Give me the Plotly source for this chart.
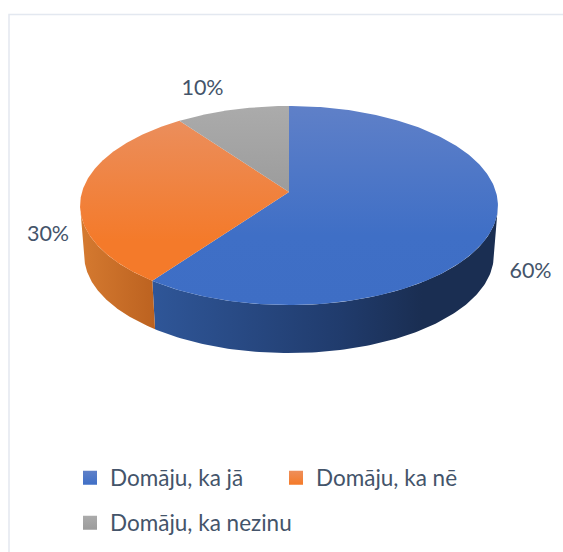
import numpy as np
import plotly.graph_objects as go

categories = ["Domāju, ka jā", "Domāju, ka nē", "Domāju, ka nezinu"]
values = [60, 30, 10]
labels = ["60%", "30%", "10%"]

# ---- styles and projection of the tilted disc, in page pixels ----
W, H = 563, 552
CX, CY = 289.0, 192.0
RX, RY, K = 207.0, 97.7, 0.1357
BASE_SCALE, BASE_Y = 0.98, 242.3
TEXT = "#44546A"
FONT = "Lato, Carlito, 'Open Sans', sans-serif"
TOP_SCALES = [
    [[0, "#5F80C8"], [0.65, "#3F6FC6"], [1, "#3E6EC5"]],
    [[0, "#EB8E5C"], [0.75, "#F47A2A"], [1, "#F47A2A"]],
    [[0, "#ABABAB"], [1, "#9C9C9C"]],
]
WALL_SCALES = [
    [[0, "#2F5698"], [0.55, "#203B6C"], [0.78, "#1A2E52"], [1, "#1A2E52"]],
    [[0, "#D57A30"], [1, "#BC6220"]],
    None,
]
SWATCH = [("#5F80C8", "#3F6FC6"), ("#EE8F5C", "#F57A28"), ("#ABABAB", "#9C9C9C")]
LABEL_POS = {0: (530.5, 272.5), 1: (48, 235.5), 2: (202.5, 89.5)}


def project(theta_deg, scale=1.0, cy=CY):
    t = np.radians(theta_deg)
    u, v = np.sin(t), -np.cos(t)
    w = 1 - K * v
    return CX + scale * RX * u / w, cy + scale * RY * v / w


edges = np.concatenate([[0], np.cumsum(values)]) / np.sum(values) * 360
# visible part of the rim, silhouette to silhouette
RIM_START, RIM_END = 98.0, 262.0

fig = go.Figure()

# side walls
for i in range(len(values)):
    a0, a1 = max(edges[i], RIM_START), min(edges[i + 1], RIM_END)
    if a1 <= a0 or WALL_SCALES[i] is None:
        continue
    th = np.linspace(a0, a1, 120)
    xt, yt = project(th)
    xb, yb = project(th[::-1], BASE_SCALE, BASE_Y)
    xs = np.concatenate([xt, xb, xt[:1]])
    ys = np.concatenate([yt, yb, yt[:1]])
    fig.add_trace(go.Scatter(
        x=xs, y=ys, mode="lines", line=dict(width=0), fill="toself",
        fillgradient=dict(type="horizontal", colorscale=WALL_SCALES[i],
                          start=float(xs.min()), stop=float(xs.max())),
        showlegend=False, hoverinfo="skip"))

# top faces
for i in range(len(values)):
    th = np.linspace(edges[i], edges[i + 1], 240)
    x, y = project(th)
    xs = np.concatenate([[CX], x, [CX]])
    ys = np.concatenate([[CY], y, [CY]])
    fig.add_trace(go.Scatter(
        x=xs, y=ys, mode="lines", line=dict(width=0), fill="toself",
        fillgradient=dict(type="vertical", colorscale=TOP_SCALES[i],
                          start=float(ys.min()), stop=float(ys.max())),
        showlegend=False, hoverinfo="skip", name=categories[i]))

# data labels
fig.add_trace(go.Scatter(
    x=[LABEL_POS[i][0] for i in range(3)],
    y=[LABEL_POS[i][1] for i in range(3)],
    mode="text", text=labels, textposition="middle center",
    textfont=dict(family=FONT, size=21.5, color=TEXT),
    showlegend=False, hoverinfo="skip"))

# legend entries
for i, name in enumerate(categories):
    fig.add_trace(go.Scatter(
        x=[None], y=[None], mode="markers", name=name,
        legend="legend" if i < 2 else "legend2",
        marker=dict(symbol="square", size=14, color=SWATCH[i][0],
                    gradient=dict(type="vertical", color=SWATCH[i][1]))))

legend_common = dict(
    orientation="h", xanchor="left", yanchor="middle",
    xref="container", yref="container",
    font=dict(family=FONT, size=22.5, color=TEXT),
    bgcolor="rgba(0,0,0,0)", entrywidthmode="pixels",
    itemsizing="trace", itemclick=False, itemdoubleclick=False)

fig.update_layout(
    width=W, height=H, margin=dict(l=0, r=0, t=0, b=0, autoexpand=False),
    paper_bgcolor="white", plot_bgcolor="white",
    xaxis=dict(range=[0, W], visible=False, fixedrange=True),
    yaxis=dict(range=[H, 0], visible=False, fixedrange=True),
    legend=dict(x=70 / W, y=1 - 478 / H, entrywidth=161, **legend_common),
    legend2=dict(x=70 / W, y=1 - 523 / H, entrywidth=210, **legend_common),
    shapes=[dict(type="rect", xref="x", yref="y", x0=9, y0=14.5, x1=W + 50, y1=H + 50,
                 line=dict(color="#E3E8F0", width=1.5), layer="below")],
    showlegend=True,
)

fig.write_html("out.html", post_script="document.body.style.margin='0';", config={"displayModeBar": False})
